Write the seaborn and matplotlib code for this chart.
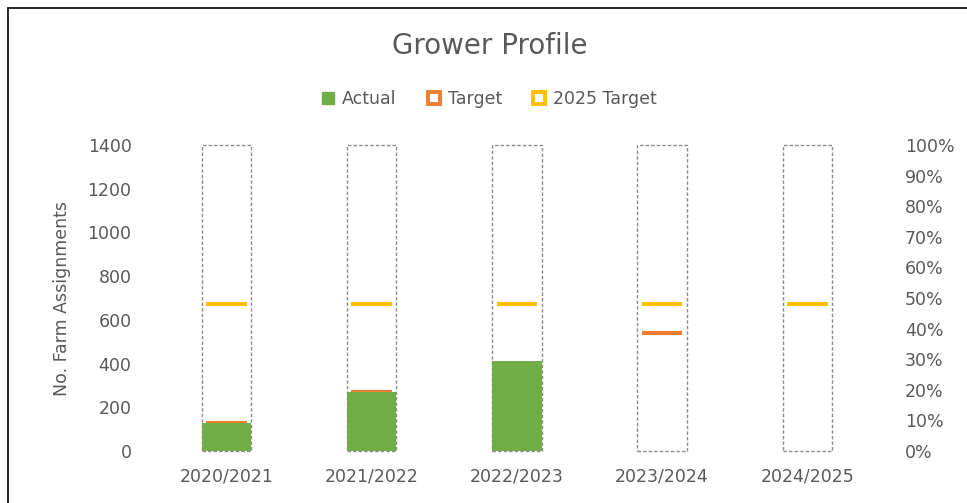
import matplotlib
matplotlib.use("Agg")
import matplotlib.pyplot as plt
from matplotlib.lines import Line2D
import seaborn as sns
import pandas as pd
import numpy as np

categories = ["2020/2021", "2021/2022", "2022/2023", "2023/2024", "2024/2025"]
actual = [130, 272, 413, 0, 0]
target = [127, 269, np.nan, 540, np.nan]
target_2025 = [674, 674, 674, 674, 674]
box_pct = [1.0, 1.0, 1.0, 1.0, 1.0]
left_ticks = [0, 200, 400, 600, 800, 1000, 1200, 1400]
right_ticks = [0, 0.1, 0.2, 0.3, 0.4, 0.5, 0.6, 0.7, 0.8, 0.9, 1.0]

GREEN = "#70AD47"
ORANGE = "#ED7D31"
YELLOW = "#FFC000"
TXT = "#595959"

sns.set_theme(style="white")
plt.rcParams["font.family"] = ["DejaVu Sans"]

fig = plt.figure(figsize=(9.67, 5.03), dpi=100)
ax = fig.add_axes([0.159, 0.1034, 0.751, 0.6083])
ax2 = ax.twinx()

df = pd.DataFrame({"cat": categories, "actual": actual, "box": box_pct})

# dashed outline boxes on secondary axis
sns.barplot(data=df, x="cat", y="box", ax=ax2, fill=False, width=0.34,
            edgecolor="#8C8C8C", linewidth=1.0, linestyle=(0, (2.5, 1.5)), zorder=1)
for p in ax2.patches:
    p.set_clip_on(False)

idx = np.arange(len(categories))
half = 0.14
# target lines drawn beneath the actual bars
ax.hlines(target, idx - half, idx + half, colors=ORANGE, linewidth=3, zorder=1)
ax.hlines(target_2025, idx - half, idx + half, colors=YELLOW, linewidth=3, zorder=3)
# actual bars
sns.barplot(data=df, x="cat", y="actual", ax=ax, color=GREEN, width=0.34,
            saturation=1, linewidth=0, zorder=2)

ax.set_ylim(0, 1400)
ax.set_yticks(left_ticks)
ax.set_yticklabels([str(t) for t in left_ticks])
ax2.set_ylim(0, 1.0)
ax2.set_yticks(right_ticks)
ax2.set_yticklabels([f"{int(round(t*100))}%" for t in right_ticks])
ax.set_xlim(-0.5, len(categories) - 0.5)
ax2.set_xlim(-0.5, len(categories) - 0.5)

for a in (ax, ax2):
    for s in a.spines.values():
        s.set_visible(False)
    a.tick_params(axis="both", length=0, labelsize=12.5, labelcolor=TXT)
    a.grid(False)
ax.set_xlabel("")
ax2.set_xlabel("")
ax2.set_ylabel("")
ax.tick_params(axis="y", pad=16)
ax2.tick_params(axis="y", pad=18)
ax.tick_params(axis="x", pad=12)
ax.set_ylabel("No. Farm Assignments", fontsize=12.5, color=TXT, labelpad=12)
ax.set_zorder(ax2.get_zorder() + 1)
ax.patch.set_visible(False)

fig.text(0.506, 0.908, "Grower Profile", ha="center", va="center", fontsize=20, color=TXT)

handles = [
    Line2D([], [], marker="s", linestyle="none", markersize=9, markerfacecolor=GREEN,
           markeredgecolor=GREEN),
    Line2D([], [], marker="s", linestyle="none", markersize=8, markerfacecolor="white",
           markeredgecolor=ORANGE, markeredgewidth=2.8),
    Line2D([], [], marker="s", linestyle="none", markersize=8, markerfacecolor="white",
           markeredgecolor=YELLOW, markeredgewidth=2.8),
]
leg = fig.legend(handles, ["Actual", "Target", "2025 Target"], loc="center",
                 bbox_to_anchor=(0.506, 0.803), ncol=3, frameon=False, fontsize=12.5,
                 handlelength=0.7, handletextpad=0.45, columnspacing=1.8)
for t in leg.get_texts():
    t.set_color(TXT)

# figure border (top and left lines as in screenshot)
fig.add_artist(Line2D([0.008, 1.0], [0.984, 0.984], color="black", linewidth=1.2,
                      transform=fig.transFigure))
fig.add_artist(Line2D([0.008, 0.008], [0.0, 0.984], color="black", linewidth=1.2,
                      transform=fig.transFigure))

fig.savefig("out.png", dpi=100, facecolor="white")
